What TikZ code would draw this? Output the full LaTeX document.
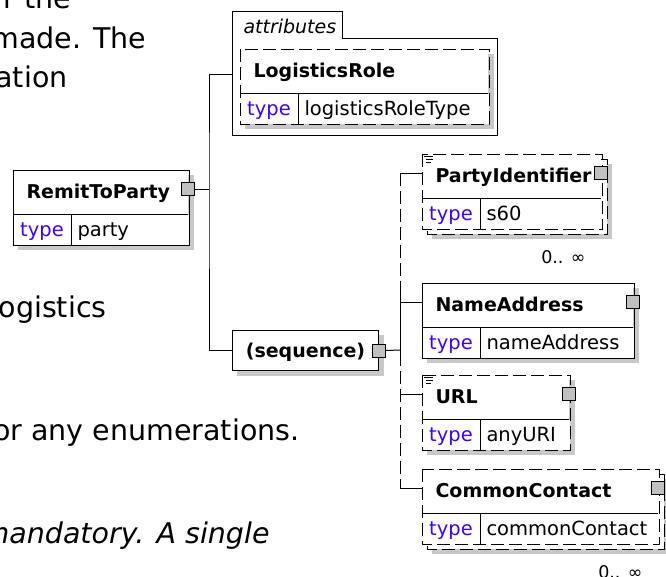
\documentclass[tikz,border=0pt]{standalone}
\usepackage{fontspec}
\setmainfont{DejaVu Sans}
\usepackage{tikz}
\usetikzlibrary{positioning, calc, backgrounds}
\definecolor{typeblue}  {RGB}{64,  0,  255}
\definecolor{shadowgray}{RGB}{200, 200, 200}
\definecolor{btngray}   {RGB}{192, 192, 192}

\begin{document}
\begin{tikzpicture}[x=1pt, y=-1pt, line width=1pt,
	opt/.style={dash pattern=on 13pt off 5pt},
	cell/.style={fill=white, anchor=north west, inner sep=0pt},
	hdr/.style={cell, minimum height=43pt},
	tcell/.style={cell, minimum width=57pt, minimum height=30pt, text=typeblue,
		font=\fontsize{19.5}{22}\selectfont, text height=14pt, text depth=0pt},
	vcell/.style={cell, minimum height=30pt},
	elname/.style={anchor=base west, inner sep=0pt, font=\bfseries\fontsize{19}{22}\selectfont},
	elval/.style={anchor=base west, inner sep=0pt, font=\fontsize{19.5}{22}\selectfont},
	btn/.style={draw, fill=btngray, minimum size=13pt, inner sep=0pt},
	mult/.style={anchor=base east, inner sep=0pt, font=\fontsize{17.5}{20}\selectfont},
	para/.style={anchor=base east, inner sep=0pt, font=\fontsize{28.5}{34}\selectfont}]
	\useasboundingbox (0,0) rectangle (666,576);

	% text of the page behind the diagram
	\node[para] (p1) at (72,8) {r the};
	\node[para] (p2) at (147,48) {made. The};
	\node[para] (p3) at (68,87) {ation};
	\node[para] (p4) at (107,317) {ogistics};
	\node[para] (p5) at (300,440) {or any enumerations.};
	\node[para, font=\itshape\fontsize{28.5}{34}\selectfont] (p6) at (270,543) {mandatory. A single};

	% attributes frame
	\draw (232,135) -- (232,11) -- (342,11) -- (342,38) -- (497,38) -- (497,135) -- cycle;
	\node[anchor=base west, inner sep=0pt, font=\itshape\fontsize{19}{22}\selectfont] (attr-lbl) at (243,33) {attributes};
	\coordinate (attr-in) at (232,74);

	% element boxes
	\foreach \n/\x/\y/\w/\nm/\ty in {remit/13/170/174/RemitToParty/party,
			role/240/49/247/LogisticsRole/logisticsRoleType,
			pid/422/154/178/PartyIdentifier/s60,
			na/422/283/210/NameAddress/nameAddress,
			url/422/375/146/URL/anyURI,
			cc/422/469/235/CommonContact/commonContact}{
		\node[hdr, minimum width=\w*1pt] (\n) at (\x,\y) {};
		\node[tcell] (\n-t) at (\n.south west) {type};
		\node[vcell, minimum width={(\w-57)*1pt}] (\n-v) at (\n-t.north east) {};
		\node[elname] (\n-name) at ([shift={(13pt,-28pt)}]\n.north west) {\nm};
		\node[elval] (\n-val) at ([shift={(6pt,-22pt)}]\n-v.north west) {\ty};
		\coordinate (\n-in) at ([yshift=-19pt]\n.north west);
	}
	\foreach \n/\s in {remit/solid, role/opt, pid/opt, na/solid, url/opt, cc/opt}{
		\draw[\s] (\n.north west) rectangle (\n-v.south east);
		\draw (\n.south west) -- (\n.south east) (\n-v.north west) -- (\n-v.south west);
	}

	\node[draw, fill=white, anchor=north west, minimum width=146pt, minimum height=40pt, inner sep=0pt,
		font=\bfseries\fontsize{19}{22}\selectfont, text height=15pt, text depth=2pt] (seq) at (232,330) {(sequence)};

	% page, shadows and stacked boxes
	\begin{scope}[on background layer]
		\fill[white] (0,0) rectangle (666,576);
		\foreach \n in {remit,role,pid,na,url,cc}
			\fill[shadowgray] ([shift={(5pt,-5pt)}]\n.north west) rectangle ([shift={(5pt,-5pt)}]\n-v.south east);
		\fill[shadowgray] ([shift={(5pt,-5pt)}]seq.north west) rectangle ([shift={(5pt,-5pt)}]seq.south east);
		\foreach \n in {pid,cc}{
			\fill[shadowgray] ([shift={(10pt,-10pt)}]\n.north west) rectangle ([shift={(10pt,-10pt)}]\n-v.south east);
			\draw[opt, fill=white] ([shift={(5pt,-5pt)}]\n.north west) rectangle ([shift={(5pt,-5pt)}]\n-v.south east);
		}
	\end{scope}

	% expand buttons
	\foreach \n in {remit,pid,na,url,cc}
		\node[btn] (\n-btn) at ([yshift=-19pt]\n.north east) {};
	\node[btn] (seq-btn) at (seq.east) {};

	% simple content marks
	\foreach \n in {pid,url}
		\draw[line width=0.8pt] ([shift={(2pt,-2pt)}]\n.north west) -- ++(9,0)
			([shift={(4pt,-5pt)}]\n.north west) -- ++(7,0)
			([shift={(4pt,-8pt)}]\n.north west) -- ++(5,0);

	\node[mult] (pid-mult) at ([shift={(-16pt,-34pt)}]pid-v.south east) {0.. ∞};
	\node[mult] (cc-mult) at ([shift={(-16pt,-34pt)}]cc-v.south east) {0.. ∞};

	% connectors
	\coordinate (trunk) at (209,189);
	\draw (remit-btn.east) -- (trunk);
	\draw (attr-in) -| (trunk) |- (seq.west);
	\coordinate (bus) at (400,350);
	\draw (seq-btn.east) -- (bus);
	\draw[opt] (bus |- pid-in) -- (bus |- cc-in);
	\draw (bus |- na-in) ++(0,-12) -- ++(0,70);
	\foreach \n in {pid,na,url,cc}
		\draw (bus |- \n-in) -- (\n-in);
\end{tikzpicture}
\end{document}
